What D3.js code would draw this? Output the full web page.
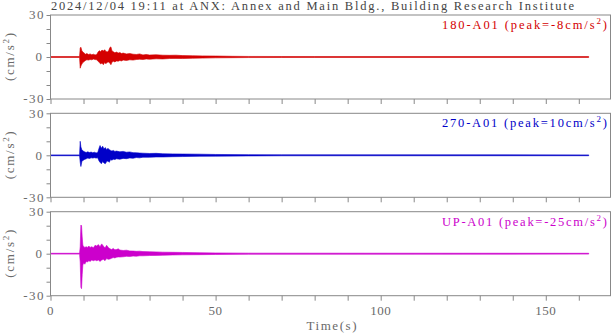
<!DOCTYPE html>
<html><head><meta charset="utf-8">
<script src="https://cdn.jsdelivr.net/npm/d3@7"></script>
<style>html,body{margin:0;padding:0;background:#fff;}svg{display:block;}</style>
</head><body>
<svg id="c" width="613" height="334"></svg>
<script>
// ---- data (envelope of each acceleration record) ----
const titleText = "2024/12/04 19:11 at ANX: Annex and Main Bldg., Building Research Institute";
const channels = ["180-A01", "270-A01", "UP-A01"];
const peaks = ["-8", "10", "-25"];
const xTicksLabeled = [0, 50, 100, 150];
const yTicksLabeled = [30, 0, -30];

const t180  = [0, 8.8, 9.0, 9.2, 9.5, 9.8, 10.2, 10.6, 11.0, 11.5, 12.0, 12.5, 13.0, 13.5, 14.0, 14.4, 14.8, 15.2, 15.6, 16.0, 16.4, 16.8, 17.2, 17.6, 18.0, 18.3, 18.6, 19.0, 19.5, 20.0, 20.5, 21.0, 21.5, 22.0, 23.0, 24.0, 25.0, 26.0, 27.0, 28.0, 29.0, 30.0, 32.0, 34.0, 36.0, 38.0, 40.0, 43.0, 46.0, 50.0, 55.0, 60.0, 70.0, 80.0, 163];
const up180 = [0.3, 0.3, 6.5, 7.0, 4.5, 3.5, 2.8, 2.0, 2.5, 1.8, 2.2, 1.6, 2.0, 1.5, 1.8, 3.5, 4.5, 3.8, 5.0, 4.2, 5.2, 4.0, 3.5, 4.5, 6.8, 7.2, 4.5, 3.8, 3.0, 3.5, 2.8, 3.2, 2.5, 2.8, 2.2, 2.5, 2.0, 1.8, 2.2, 1.5, 1.8, 1.4, 1.6, 1.3, 1.2, 1.3, 1.0, 0.9, 0.8, 0.7, 0.5, 0.4, 0.35, 0.3, 0.3];
const lo180 = [-0.3, -0.3, -8.0, -6.5, -5.0, -4.0, -3.2, -2.5, -2.0, -2.2, -1.8, -2.0, -1.5, -1.8, -2.0, -3.0, -4.0, -5.0, -4.2, -5.5, -4.0, -4.8, -3.8, -3.5, -4.5, -5.5, -3.8, -3.0, -3.5, -2.8, -3.0, -2.5, -2.8, -2.2, -2.5, -2.0, -2.2, -1.8, -1.6, -1.8, -1.4, -1.6, -1.3, -1.4, -1.1, -1.0, -1.1, -0.9, -0.8, -0.6, -0.5, -0.4, -0.35, -0.3, -0.3];

const t270  = [0, 8.8, 9.0, 9.2, 9.5, 9.9, 10.3, 10.8, 11.3, 11.8, 12.3, 12.8, 13.3, 13.8, 14.3, 14.7, 15.0, 15.4, 15.8, 16.2, 16.6, 17.0, 17.4, 17.8, 18.2, 18.6, 19.0, 19.5, 20.0, 21.0, 22.0, 23.0, 24.0, 25.0, 26.0, 27.0, 28.0, 30.0, 32.0, 34.0, 37.0, 40.0, 45.0, 50.0, 60.0, 70.0, 163];
const up270 = [0.3, 0.3, 10.0, 6.0, 4.0, 3.0, 2.5, 2.0, 2.5, 2.0, 2.3, 1.8, 2.2, 1.7, 2.0, 5.0, 7.0, 5.0, 6.5, 4.5, 5.5, 4.0, 5.0, 4.0, 3.5, 3.0, 3.5, 2.8, 3.0, 2.5, 2.8, 2.2, 2.4, 1.9, 1.8, 1.6, 1.5, 1.3, 1.4, 1.1, 1.0, 0.9, 0.8, 0.6, 0.45, 0.35, 0.3];
const lo270 = [-0.3, -0.3, -5.0, -8.0, -4.5, -3.5, -3.0, -2.5, -2.0, -2.3, -1.8, -2.0, -1.7, -2.0, -1.8, -4.0, -5.0, -6.0, -4.5, -5.5, -6.0, -4.5, -4.0, -5.0, -3.0, -3.5, -2.8, -3.0, -2.5, -2.8, -2.2, -2.4, -1.9, -2.1, -1.6, -1.8, -1.4, -1.4, -1.2, -1.2, -1.0, -0.9, -0.7, -0.6, -0.45, -0.35, -0.3];

const tUP  = [0, 8.8, 9.0, 9.2, 9.4, 9.6, 9.8, 10.1, 10.4, 10.8, 11.2, 11.6, 12.0, 12.5, 13.0, 13.5, 14.0, 14.5, 15.0, 15.5, 16.0, 16.5, 17.0, 17.5, 18.0, 18.5, 19.0, 19.5, 20.0, 20.5, 21.0, 22.0, 23.0, 24.0, 25.0, 26.0, 27.0, 28.0, 30.0, 32.0, 34.0, 37.0, 40.0, 45.0, 50.0, 60.0, 163];
const upUP = [0.3, 0.3, 5.0, 20.5, 20.0, 12.0, 6.0, 5.0, 4.5, 5.0, 4.5, 5.5, 4.5, 5.0, 4.2, 6.0, 5.5, 6.5, 5.0, 7.0, 5.5, 4.0, 6.0, 4.5, 3.5, 3.0, 3.8, 2.8, 3.0, 3.5, 2.6, 2.3, 2.5, 2.0, 1.9, 1.7, 1.8, 1.5, 1.4, 1.3, 1.1, 1.0, 0.9, 0.7, 0.55, 0.4, 0.3];
const loUP = [-0.3, -0.3, -6.0, -24.0, -25.0, -15.0, -8.0, -6.5, -7.5, -5.5, -6.0, -5.0, -5.5, -4.5, -5.0, -4.5, -5.0, -4.5, -5.5, -4.5, -4.0, -5.0, -3.5, -4.0, -3.8, -3.2, -2.8, -3.0, -2.5, -2.3, -2.4, -2.2, -1.9, -2.0, -1.7, -1.8, -1.5, -1.5, -1.3, -1.2, -1.1, -0.9, -0.8, -0.7, -0.55, -0.4, -0.3];

const colors = ["#d40000", "#0000c8", "#cc00cc"];
const traces = [[t180, up180, lo180], [t270, up270, lo270], [tUP, upUP, loUP]];

// ---- layout ----
const svg = d3.select("#c");
const left = 50.5, right = 610.5;
const panelTop = [15, 113.3, 211.7], panelH = 84;
const x = d3.scaleLinear().domain([0, 169.6]).range([left, right]);
const serif = "'Liberation Serif','Times New Roman',serif";
const frameCol = "#888", labCol = "#6a6a6a";

// title
svg.append("text").attr("x", 51).attr("y", 10)
  .attr("font-family", serif).attr("font-size", 12.5).attr("fill", "#444")
  .attr("textLength", 523).attr("lengthAdjust", "spacing")
  .text(titleText);

const defs = svg.append("defs");

panelTop.forEach((top, i) => {
  const y = d3.scaleLinear().domain([-30, 30]).range([top + panelH, top]);
  const g = svg.append("g");

  defs.append("clipPath").attr("id", "clip" + i)
    .append("rect").attr("x", left).attr("y", top).attr("width", right - left).attr("height", panelH);

  // trace
  const [tt, uu, ll] = traces[i];
  const rows = tt.map((t, k) => ({t, hi: uu[k], lo: ll[k]}));
  const area = d3.area().x(d => x(d.t)).y0(d => y(d.lo)).y1(d => y(d.hi));
  g.append("path").datum(rows).attr("d", area)
    .attr("clip-path", `url(#clip${i})`)
    .attr("fill", colors[i]).attr("stroke", colors[i]).attr("stroke-width", 0.6)
    .attr("stroke-linejoin", "round");

  // x ticks (outward, below)
  const xa = d3.axisBottom(x).tickValues(d3.range(0, 161, 10)).tickSize(5).tickFormat("");
  const xg = g.append("g").attr("transform", `translate(0,${top + panelH})`).call(xa);
  xg.select(".domain").remove();
  xg.selectAll("line").attr("stroke", frameCol);

  // y ticks
  const ya = d3.axisLeft(y).tickValues(d3.range(-30, 31, 10)).tickSize(4).tickFormat("");
  const yg = g.append("g").attr("transform", `translate(${left},0)`).call(ya);
  yg.select(".domain").remove();
  yg.selectAll("line").attr("stroke", frameCol);

  // y tick labels
  yTicksLabeled.forEach(v => {
    g.append("text")
      .attr("x", v === 0 ? 42 : 45).attr("y", y(v) + 4.3)
      .attr("text-anchor", "end")
      .attr("letter-spacing", v === 0 ? 0 : 1.5)
      .attr("font-family", serif).attr("font-size", 13).attr("fill", labCol)
      .text(v);
  });

  // frame
  g.append("rect").attr("x", left).attr("y", top).attr("width", right - left).attr("height", panelH)
    .attr("fill", "none").attr("stroke", frameCol).attr("stroke-width", 1);

  // channel label
  const lab = g.append("text").attr("x", 442).attr("y", top + 14)
    .attr("font-family", serif).attr("font-size", 12.5).attr("fill", colors[i])
    .attr("textLength", 165).attr("lengthAdjust", "spacing");
  lab.append("tspan").text(`${channels[i]} (peak=${peaks[i]}cm/s`);
  lab.append("tspan").attr("dy", -5).attr("font-size", 9).text("2");
  lab.append("tspan").attr("dy", 5).text(")");

  // y axis title
  const yt = g.append("text")
    .attr("transform", `translate(14,${top + panelH / 2}) rotate(-90)`)
    .attr("text-anchor", "middle")
    .attr("font-family", serif).attr("font-size", 13).attr("fill", labCol)
    .attr("textLength", 48).attr("lengthAdjust", "spacing");
  yt.append("tspan").text("(cm/s");
  yt.append("tspan").attr("dy", -5).attr("font-size", 9).text("2");
  yt.append("tspan").attr("dy", 5).text(")");
});

// bottom labels
const bottom = panelTop[2] + panelH;
xTicksLabeled.forEach(v => {
  svg.append("text").attr("x", x(v)).attr("y", bottom + 19.5)
    .attr("text-anchor", "middle").attr("letter-spacing", 0.5)
    .attr("font-family", serif).attr("font-size", 13).attr("fill", labCol)
    .text(v);
});
svg.append("text").attr("x", 306.5).attr("y", bottom + 34)
  .attr("font-family", serif).attr("font-size", 13).attr("fill", labCol)
  .attr("textLength", 50).attr("lengthAdjust", "spacing")
  .text("Time(s)");
</script>
</body></html>
